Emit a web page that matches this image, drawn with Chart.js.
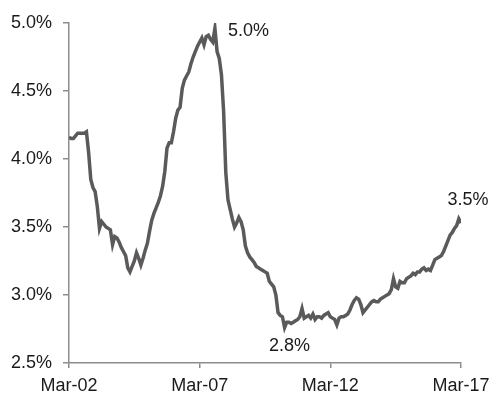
<!DOCTYPE html>
<html>
<head>
<meta charset="utf-8">
<script src="https://cdn.jsdelivr.net/npm/chart.js@4/dist/chart.umd.min.js"></script>
<style>
html,body{margin:0;padding:0;background:#fff;}
#wrap{width:489px;height:400px;}
</style>
</head>
<body>
<div id="wrap"><canvas id="c" width="489" height="400"></canvas></div>
<script>
// Monthly values, Mar-02 .. Mar-17 (percent)
const values = [
4.16,4.15,4.15,4.17,4.19,4.19,4.19,4.19,4.20,4.05,
3.85,3.79,3.76,3.65,3.49,3.54,3.52,3.50,3.49,3.48,
3.37,3.43,3.42,3.39,3.35,3.32,3.29,3.20,3.17,3.21,
3.25,3.31,3.27,3.22,3.27,3.33,3.38,3.47,3.55,3.60,
3.64,3.68,3.73,3.80,3.91,4.08,4.12,4.12,4.20,4.30,
4.36,4.38,4.52,4.58,4.61,4.64,4.70,4.75,4.79,4.83,
4.86,4.89,4.84,4.90,4.91,4.88,4.86,4.96,4.79,4.74,
4.62,4.35,3.90,3.70,3.63,3.56,3.50,3.53,3.57,3.54,
3.48,3.36,3.31,3.28,3.26,3.24,3.21,3.20,3.19,3.18,
3.17,3.16,3.10,3.08,3.06,3.00,2.87,2.85,2.84,2.76,
2.80,2.80,2.79,2.80,2.81,2.82,2.84,2.90,2.83,2.84,
2.85,2.83,2.86,2.82,2.84,2.84,2.83,2.85,2.86,2.87,
2.84,2.83,2.82,2.78,2.83,2.84,2.84,2.85,2.86,2.89,
2.93,2.96,2.98,2.97,2.93,2.87,2.89,2.91,2.93,2.95,
2.96,2.95,2.95,2.97,2.98,2.99,3.00,3.01,3.04,3.12,
3.06,3.05,3.10,3.09,3.09,3.12,3.13,3.14,3.16,3.15,
3.17,3.17,3.19,3.20,3.18,3.19,3.18,3.22,3.26,3.27,
3.28,3.29,3.32,3.36,3.40,3.44,3.46,3.49,3.51,3.56,
3.53
];
const tickLabels = ['Mar-02','Mar-07','Mar-12','Mar-17'];
const yTicks = [2.5,3.0,3.5,4.0,4.5,5.0];
// annotations: [index, text]
const annIndex = [67, 99, 180];
const annText = ['5.0%','2.8%','3.5%'];

const FONT = "'Liberation Sans', Arial, sans-serif";
const annOffsets = [[13,3,'left'],[5,18,'center'],[7,-23,'center']];

const annPlugin = {
  id:'ann',
  afterDatasetsDraw(chart){
    const ctx = chart.ctx;
    const xs = chart.scales.x, ys = chart.scales.y;
    ctx.save();
    ctx.font = '18px ' + FONT;
    ctx.fillStyle = '#1a1a1a';
    ctx.textBaseline = 'middle';
    annIndex.forEach((idx,k)=>{
      const px = xs.getPixelForValue(idx) + annOffsets[k][0];
      const py = ys.getPixelForValue(values[idx]) + annOffsets[k][1];
      ctx.textAlign = annOffsets[k][2];
      ctx.fillText(annText[k], px, py);
    });
    ctx.restore();
  }
};

new Chart(document.getElementById('c'), {
  type:'line',
  data:{
    datasets:[{
      data: values.map((v,i)=>({x:i,y:v})),
      borderColor:'#5b5959',
      borderWidth:3.5,
      pointRadius:0,
      tension:0,
      fill:false
    }]
  },
  options:{
    responsive:false,
    animation:false,
    events:[],
    layout:{padding:{top:23,left:0,right:0,bottom:0}},
    plugins:{legend:{display:false},tooltip:{enabled:false}},
    scales:{
      x:{
        type:'linear',
        min:0,max:180,
        afterBuildTicks(s){ s.ticks = tickLabels.map((t,i)=>({value:i*60})); },
        afterFit(s){ s.height = 37; s.paddingRight = 28; },
        border:{color:'#8c8c8c',width:1.5},
        grid:{drawOnChartArea:false,color:'#8c8c8c',tickLength:5,lineWidth:1.5},
        ticks:{
          callback:(v)=>tickLabels[Math.round(v/60)],
          color:'#1a1a1a',
          font:{family:FONT,size:18},
          padding:7,
          maxRotation:0,
          autoSkip:false
        }
      },
      y:{
        min:2.5,max:5.0,
        afterBuildTicks(s){ s.ticks = yTicks.map(v=>({value:v})); },
        afterFit(s){ s.width = 69; },
        border:{color:'#8c8c8c',width:1.5},
        grid:{drawOnChartArea:false,color:'#8c8c8c',tickLength:6,lineWidth:1.5},
        ticks:{
          callback:(v)=>v.toFixed(1)+'%',
          color:'#1a1a1a',
          font:{family:FONT,size:18},
          padding:11
        }
      }
    }
  },
  plugins:[annPlugin]
});
</script>
</body>
</html>
